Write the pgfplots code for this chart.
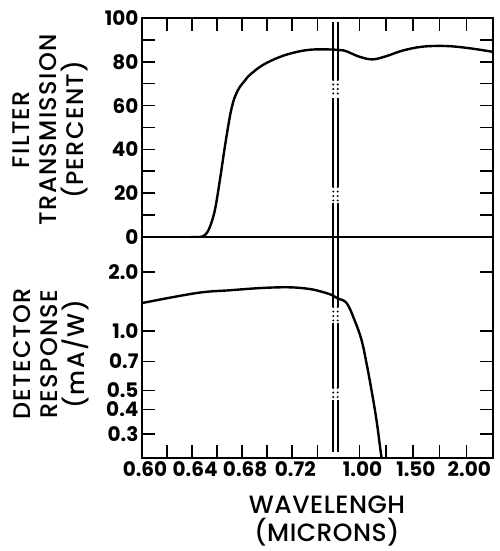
\documentclass[border=0pt]{standalone}
\usepackage{pgfplots}
\pgfplotsset{compat=1.18}
\usepackage{pgfplotstable}
\usepackage{fontspec}
\setmainfont{Poppins}
\newfontfamily\labfont{Poppins Medium}[LetterSpace=5.5]
\newfontfamily\xlabfont{Poppins Medium}[LetterSpace=2]

% Filter transmission (percent) against wavelength (microns)
\pgfplotstableread{
wl T
0.638 0
0.646 0
0.6505 1.0
0.6542 4.6
0.6582 12.3
0.6622 26
0.6661 41
0.6701 54.8
0.6725 61.0
0.6749 65.0
0.6781 68.5
0.682 71.3
0.6861 74
0.6964 78.5
0.710 82.2
0.7235 84.5
0.7363 85.6
0.752 85.6
0.785 85.4
0.850 85.2
0.9065 84.2
1.000 82.3
1.1215 81.1
1.252 82.6
1.402 85.1
1.589 86.9
1.813 87.2
2.028 86.2
2.243 84.6
2.25 84.5
}\filtertab

% Detector response (mA/W) against wavelength (microns)
\pgfplotstableread{
wl R
0.600 1.387
0.6438 1.56
0.670 1.61
0.6964 1.655
0.718 1.667
0.734 1.634
0.744 1.58
0.752 1.52
0.794 1.465
0.879 1.387
0.953 1.137
1.019 0.90
1.065 0.688
1.112 0.502
1.159 0.353
1.196 0.249
1.21 0.22
}\detectortab

\tikzset{
  curve/.style={black, line width=2.4pt, smooth, tension=0.6},
  brkline/.style={black, line width=1.8pt},
  gapdots/.style={black, line width=2.2pt, line cap=round, dash pattern=on 0pt off 4.5pt},
}

% broken wavelength scale: 0.60-0.76 stretched, 0.76-2.25 compressed
\pgfplotsset{
  x coord trafo/.code={\pgfmathparse{#1<0.76 ? (#1-0.6)*1255 : 218+(#1-1)*107}},
  panel/.style={
    scale only axis, width=351pt,
    xmin=0.60, xmax=2.25,
    xtick={0.60,0.62,0.64,0.66,0.68,0.70,0.72,0.74,1.00,1.25,1.50,1.75,2.00},
    tick align=inside,
    major tick length=13pt, minor tick length=13pt,
    every tick/.style={black, line width=1.6pt},
    axis line style={line width=1.6pt},
    tick label style={font=\fontsize{20}{20}\selectfont\bfseries},
    yticklabel pos=left, ytick pos=both,
    label style={font=\fontsize{24}{27}\labfont, align=center},
  },
}

\begin{document}
\begin{tikzpicture}
\begin{axis}[panel, name=top,
  height=219pt,
  xtick pos=right, xticklabels={},
  ymin=0, ymax=100,
  ytick={0,20,40,60,80,100}, yticklabels={0,20,40,60,80,100},
  minor ytick={10,30,50,70,90},
  ylabel={FILTER\\TRANSMISSION\\(PERCENT)},
  ylabel style={at={(axis description cs:-0.262,0.49)}, anchor=center},
]
\addplot[curve] table[x=wl, y=T] {\filtertab};
% double rule marking the break in the wavelength scale
\pgfplotsinvokeforeach{0.545,0.5575}{
  \draw[brkline] (rel axis cs:#1,0.982) -- (rel axis cs:#1,0.717);
  \draw[gapdots] (rel axis cs:#1,0.717) -- (rel axis cs:#1,0.635);
  \draw[brkline] (rel axis cs:#1,0.635) -- (rel axis cs:#1,0.228);
  \draw[gapdots] (rel axis cs:#1,0.228) -- (rel axis cs:#1,0.155);
  \draw[brkline] (rel axis cs:#1,0.155) -- (rel axis cs:#1,0);
}
\end{axis}

\begin{axis}[panel, name=bottom,
  at={(top.south west)}, anchor=north west,
  height=221pt,
  xtick pos=left,
  xticklabels={0.60,,0.64,,0.68,,0.72,,1.00,,1.50,,2.00},
  xticklabel style={xshift=3pt},
  ymode=log, ymin=0.227, ymax=3.0,
  ytick={0.3,0.4,0.5,0.7,1.0,2.0},
  yticklabels={0.3,0.4,0.5,0.7,1.0,2.0},
  ylabel={DETECTOR\\RESPONSE\\(mA/W)},
  ylabel style={at={(axis description cs:-0.259,0.47)}, anchor=center},
  xlabel={WAVELENGH\\(MICRONS)},
  xlabel style={at={(axis description cs:0.527,-0.284)}, anchor=center,
    font=\fontsize{25}{28}\xlabfont},
]
\addplot[curve] table[x=wl, y=R] {\detectortab};
\draw[brkline] (axis cs:0.60,1.5) -- ++(13pt,0);
\pgfplotsinvokeforeach{0.545,0.5575}{
  \draw[brkline] (rel axis cs:#1,1) -- (rel axis cs:#1,0.683);
  \draw[gapdots] (rel axis cs:#1,0.683) -- (rel axis cs:#1,0.611);
  \draw[brkline] (rel axis cs:#1,0.611) -- (rel axis cs:#1,0.317);
  \draw[gapdots] (rel axis cs:#1,0.317) -- (rel axis cs:#1,0.262);
  \draw[brkline] (rel axis cs:#1,0.262) -- (rel axis cs:#1,0.027);
}
\end{axis}
\pgfresetboundingbox
\path[use as bounding box] (-142pt,-314pt) rectangle (357pt,237pt);
\end{tikzpicture}
\end{document}
